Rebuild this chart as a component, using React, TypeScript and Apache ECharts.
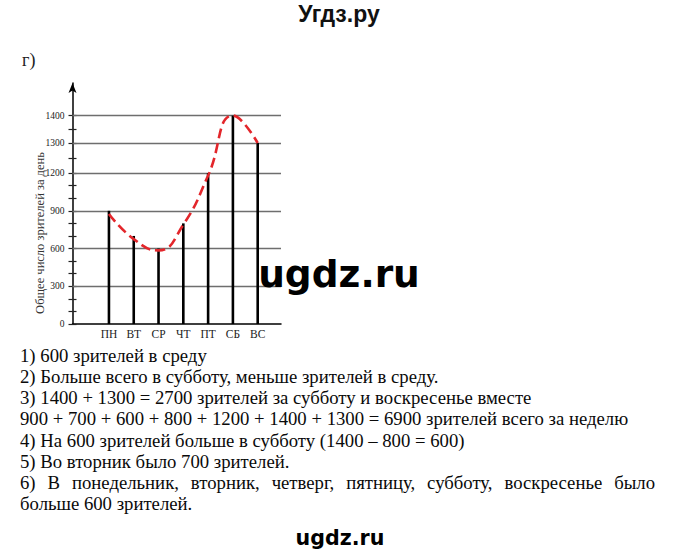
import React, { useEffect, useRef } from 'react';
import * as echarts from 'echarts';

// ---- data ----
const days = ['ПН', 'ВТ', 'СР', 'ЧТ', 'ПТ', 'СБ', 'ВС'];
const viewers = [900, 700, 600, 800, 1200, 1400, 1300];
const curveValues = [875, 675, 585, 790, 1180, 1400, 1300];
const yTickLabels = [0, 300, 600, 900, 1200, 1300, 1400];
const yMinorTicks = [0, 100, 200, 300, 400, 500, 600, 700, 800, 900, 1000, 1100, 1200, 1250, 1300, 1350, 1400];

// the hand-drawn axis is not uniform above 1200: piecewise scale stops
const scaleStops = [0, 1200, 1300, 1400];
const scalePlaces = [0, 1200, 1439, 1657];
const axisTopPlace = 1916;

const answerLines = [
  '1) 600 зрителей в среду',
  '2) Больше всего в субботу, меньше зрителей в среду.',
  '3) 1400 + 1300 = 2700 зрителей за субботу и воскресенье вместе',
  '900 + 700 + 600 + 800 + 1200 + 1400 + 1300 = 6900 зрителей всего за неделю',
  '4) На 600 зрителей больше в субботу (1400 – 800 = 600)',
  '5) Во вторник было 700 зрителей.',
  '6) В понедельник, вторник, четверг, пятницу, субботу, воскресенье было',
  'больше 600 зрителей.',
];
const justifiedLine = 6;

function place(v: number): number {
  for (let i = 1; i < scaleStops.length; i++) {
    if (v <= scaleStops[i] || i === scaleStops.length - 1) {
      const a = scaleStops[i - 1], b = scaleStops[i];
      const pa = scalePlaces[i - 1], pb = scalePlaces[i];
      return pa + ((v - a) / (b - a)) * (pb - pa);
    }
  }
  return v;
}

const SERIF = 'Liberation Serif';
const SANS = 'Liberation Sans';
const DEJAVU = 'DejaVu Sans';

export default function App() {
  const ref = useRef<HTMLDivElement>(null);
  useEffect(() => {
    if (!ref.current) return;
    const chart = echarts.init(ref.current, undefined, { renderer: 'svg' });

    const labelPlaces = yTickLabels.map(place);
    const tickPlaces = yMinorTicks.map(place);

    const textFont = 18;
    const textStretch = 1.04;
    const textLeft = 20;
    const textRight = 655;
    const firstBaseline = 361.5;
    const lineStep = 21.2;

    const canvas = document.createElement('canvas');
    const ctx = canvas.getContext('2d')!;
    ctx.font = `${textFont}px "${SERIF}"`;

    const textStyle = (text: string) => ({
      text, fontFamily: SERIF, fontSize: textFont, fill: '#0a0a0a', align: 'left', verticalAlign: 'middle',
    });

    const textElems: any[] = [];
    answerLines.forEach((line, i) => {
      const y = firstBaseline + i * lineStep - 5.5;
      if (i === justifiedLine) {
        const words = line.split(' ');
        const widths = words.map((w) => ctx.measureText(w).width * textStretch);
        const total = widths.reduce((s, w) => s + w, 0);
        const gap = (textRight - textLeft - total) / (words.length - 1);
        let x = textLeft;
        words.forEach((w, k) => {
          textElems.push({ type: 'text', x, y, scaleX: textStretch, style: textStyle(w) });
          x += widths[k] + gap;
        });
      } else {
        textElems.push({ type: 'text', x: textLeft, y, scaleX: textStretch, style: textStyle(line) });
      }
    });

    const option: any = {
      animation: false,
      backgroundColor: '#fff',
      grid: { left: 72.5, top: 83, width: 281 - 72.5, height: 241 },
      xAxis: {
        type: 'value',
        min: -1.47,
        max: 6.94,
        axisLine: { show: true, onZero: false, lineStyle: { color: '#000', width: 1.5 } },
        axisTick: { show: false },
        splitLine: { show: false },
        axisLabel: {
          customValues: days.map((_, i) => i),
          formatter: (v: number) => days[Math.round(v)] ?? '',
          fontFamily: SERIF,
          fontSize: 11.5,
          color: '#222',
          margin: 4,
        },
      },
      yAxis: [
        {
          type: 'value',
          min: 0,
          max: axisTopPlace,
          position: 'left',
          axisLine: {
            show: true, onZero: false,
            symbol: ['none', 'arrow'], symbolSize: [6, 10],
            lineStyle: { color: '#000', width: 1.5 },
          },
          axisTick: { show: true, customValues: tickPlaces, length: 4, inside: false, lineStyle: { color: '#222', width: 1.2 } },
          axisLabel: {
            customValues: labelPlaces,
            formatter: (v: number) => {
              let best = 0;
              labelPlaces.forEach((p, i) => { if (Math.abs(p - v) < Math.abs(labelPlaces[best] - v)) best = i; });
              return String(yTickLabels[best]);
            },
            fontFamily: SERIF,
            fontSize: 9.5,
            color: '#222',
            margin: 8,
          },
          splitLine: { show: false },
        },
        {
          type: 'value',
          min: 0,
          max: axisTopPlace,
          position: 'left',
          axisLine: { show: false, onZero: false },
          axisTick: { show: true, customValues: tickPlaces, length: 4, inside: true, lineStyle: { color: '#222', width: 1.2 } },
          axisLabel: { show: false },
          splitLine: { show: false },
        },
      ],
      series: [
        {
          type: 'bar',
          data: viewers.map((v, i) => [i, place(v)]),
          barWidth: 2.6,
          itemStyle: { color: '#000' },
          silent: true,
          markLine: {
            silent: true,
            symbol: 'none',
            label: { show: false },
            lineStyle: { color: '#6e6e6e', width: 1.3, type: 'solid' },
            data: yTickLabels.slice(1).map((v) => ({ yAxis: place(v) })),
            z: 1,
          },
          z: 3,
        },
        {
          type: 'line',
          data: curveValues.map((v, i) => [i, place(v)]),
          smooth: 0.5,
          symbol: 'none',
          lineStyle: { color: '#e3262b', width: 2.6, type: [10, 5] },
          silent: true,
          z: 4,
        },
      ],
      graphic: [
        {
          type: 'text', x: 339, y: 14,
          style: { text: 'Угдз.ру', fontFamily: SANS, fontWeight: 'bold', fontSize: 23, fill: '#111', align: 'center', verticalAlign: 'middle' },
        },
        {
          type: 'text', x: 22, y: 60,
          style: { text: 'г)', fontFamily: SERIF, fontSize: 18, fill: '#222', align: 'left', verticalAlign: 'middle' },
        },
        {
          type: 'text', x: 40, y: 233, rotation: Math.PI / 2,
          style: { text: 'Общее число зрителей за день', fontFamily: SERIF, fontSize: 12.5, fill: '#333', align: 'center', verticalAlign: 'middle' },
        },
        {
          type: 'text', x: 339, y: 274, z: 100,
          style: { text: 'ugdz.ru', fontFamily: DEJAVU, fontWeight: 'bold', fontSize: 37.5, fill: '#000', align: 'center', verticalAlign: 'middle' },
        },
        ...textElems,
        {
          type: 'text', x: 340, y: 538,
          style: { text: 'ugdz.ru', fontFamily: DEJAVU, fontWeight: 'bold', fontSize: 20.6, fill: '#000', align: 'center', verticalAlign: 'middle' },
        },
      ],
    };
    chart.setOption(option);
    return () => chart.dispose();
  }, []);
  return <div ref={ref} style={{ position: 'absolute', left: 0, top: 0, width: 680, height: 558 }} />;
}
